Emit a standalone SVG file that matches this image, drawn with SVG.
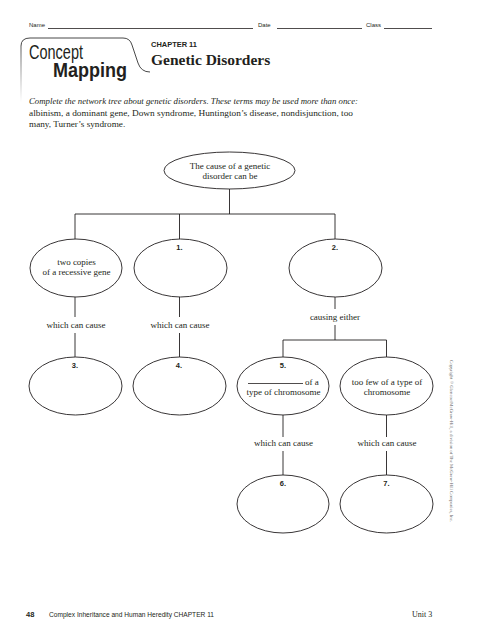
<svg xmlns="http://www.w3.org/2000/svg" width="500" height="640" viewBox="0 0 500 640">
<defs>
<style>
.sans{font-family:"Liberation Sans","Open Sans",sans-serif;fill:#231f20}
.serif{font-family:"Liberation Serif","DejaVu Serif",serif;fill:#231f20}
.node{fill:none;stroke:#231f20;stroke-width:0.9}
.conn line{stroke:#231f20;stroke-width:0.9}
.lbl{font-family:"Liberation Serif",serif;font-size:9px;fill:#231f20;text-anchor:middle}
.num{font-family:"Liberation Sans",sans-serif;font-size:7.5px;font-weight:bold;fill:#231f20;text-anchor:middle}
.ntxt{font-family:"Liberation Serif",serif;font-size:9px;fill:#231f20;text-anchor:middle}
.rule{stroke:#231f20;stroke-width:0.8}
</style>
<linearGradient id="gh" x1="0" y1="0" x2="1" y2="0">
<stop offset="0" stop-color="#333"/><stop offset="0.85" stop-color="#555"/><stop offset="1" stop-color="#fff"/>
</linearGradient>
<linearGradient id="gv" x1="0" y1="0" x2="0" y2="1">
<stop offset="0" stop-color="#555"/><stop offset="1" stop-color="#fff"/>
</linearGradient>
</defs>
<rect width="500" height="640" fill="#fff"/>

<!-- header -->
<g id="header">
<text class="sans" x="29" y="27" font-size="6">Name</text>
<line class="rule" x1="48" y1="28.5" x2="253" y2="28.5"/>
<text class="sans" x="258" y="27" font-size="6">Date</text>
<line class="rule" x1="277" y1="28.5" x2="362" y2="28.5"/>
<text class="sans" x="366" y="27" font-size="6">Class</text>
<line class="rule" x1="384" y1="28.5" x2="432" y2="28.5"/>
<path d="M21,46 Q21,38 30,38 L123,38 Q130,38 132,45 L138,63 Q141,72 150,72" fill="none" stroke="#333" stroke-width="0.9"/>
<line x1="150" y1="72" x2="434" y2="72" stroke="url(#gh)" stroke-width="0.9"/>
<rect x="20.5" y="46" width="1" height="56" fill="url(#gv)"/>
<text class="sans" x="29" y="59" font-size="20" textLength="54" lengthAdjust="spacingAndGlyphs">Concept</text>
<text class="sans" x="53" y="77" font-size="21" font-weight="bold" textLength="74" lengthAdjust="spacingAndGlyphs">Mapping</text>
<text class="sans" x="151" y="46.5" font-size="8" font-weight="bold" textLength="46" lengthAdjust="spacingAndGlyphs">CHAPTER 11</text>
<text class="serif" x="151" y="64.5" font-size="15.5" font-weight="bold">Genetic Disorders</text>
</g>

<g id="instructions">
<text class="serif" x="29" y="104" font-size="9.2" font-style="italic" textLength="329" lengthAdjust="spacingAndGlyphs">Complete the network tree about genetic disorders. These terms may be used more than once:</text>
<text class="serif" x="29" y="115.5" font-size="9.2" textLength="324" lengthAdjust="spacingAndGlyphs">albinism, a dominant gene, Down syndrome, Huntington’s disease, nondisjunction, too</text>
<text class="serif" x="29" y="127" font-size="9.2">many, Turner’s syndrome.</text>
</g>

<!-- connectors -->
<g id="connectors" class="conn">
<line x1="229.5" y1="189" x2="229.5" y2="214"/>
<line x1="75" y1="214" x2="335" y2="214"/>
<line x1="75" y1="214" x2="75" y2="239"/>
<line x1="179.5" y1="214" x2="179.5" y2="239"/>
<line x1="335" y1="214" x2="335" y2="239"/>
<line x1="75" y1="297" x2="75" y2="317"/>
<line x1="75" y1="333" x2="75" y2="357"/>
<line x1="179.5" y1="297" x2="179.5" y2="317"/>
<line x1="179.5" y1="333" x2="179.5" y2="357"/>
<line x1="335" y1="297" x2="335" y2="309"/>
<line x1="335" y1="325" x2="335" y2="340"/>
<line x1="283" y1="340" x2="386.5" y2="340"/>
<line x1="283" y1="340" x2="283" y2="357"/>
<line x1="386.5" y1="340" x2="386.5" y2="357"/>
<line x1="283" y1="415" x2="283" y2="437"/>
<line x1="283" y1="451" x2="283" y2="475"/>
<line x1="386.5" y1="415" x2="386.5" y2="437"/>
<line x1="386.5" y1="451" x2="386.5" y2="475"/>
</g>

<g id="connector-labels">
<text class="lbl" x="76" y="328">which can cause</text>
<text class="lbl" x="180" y="328">which can cause</text>
<text class="lbl" x="335" y="320">causing either</text>
<text class="lbl" x="283.5" y="446">which can cause</text>
<text class="lbl" x="387" y="446">which can cause</text>
</g>

<g id="root">
<ellipse class="node" cx="229.5" cy="170.5" rx="65.5" ry="18.5"/>
<text class="ntxt" x="230" y="168.5">The cause of a genetic</text>
<text class="ntxt" x="230" y="179">disorder can be</text>
</g>

<g id="recessive">
<ellipse class="node" cx="76" cy="268" rx="46" ry="29"/>
<text class="ntxt" x="76.5" y="264.5">two copies</text>
<text class="ntxt" x="76.5" y="275">of a recessive gene</text>
</g>

<g id="n1">
<ellipse class="node" cx="180.5" cy="268" rx="46.5" ry="29"/>
<text class="num" x="179.5" y="249.5">1.</text>
</g>

<g id="n2">
<ellipse class="node" cx="335.5" cy="268" rx="46.5" ry="29"/>
<text class="num" x="335" y="249.5">2.</text>
</g>

<g id="n3">
<ellipse class="node" cx="75.5" cy="386" rx="46.5" ry="29"/>
<text class="num" x="75" y="367.5">3.</text>
</g>

<g id="n4">
<ellipse class="node" cx="179.5" cy="386" rx="46.5" ry="29"/>
<text class="num" x="179" y="367.5">4.</text>
</g>

<g id="n5">
<ellipse class="node" cx="283" cy="386" rx="46" ry="29"/>
<text class="num" x="283" y="367.5">5.</text>
<line x1="248" y1="383.5" x2="303" y2="383.5" stroke="#231f20" stroke-width="0.8"/>
<text class="serif" x="305" y="384.5" font-size="9">of a</text>
<text class="ntxt" x="283.5" y="394.5">type of chromosome</text>
</g>

<g id="toofew">
<ellipse class="node" cx="386.5" cy="386" rx="46.5" ry="29"/>
<text class="ntxt" x="387" y="384.5">too few of a type of</text>
<text class="ntxt" x="387" y="395">chromosome</text>
</g>

<g id="n6">
<ellipse class="node" cx="283" cy="504" rx="46" ry="29"/>
<text class="num" x="283" y="485.5">6.</text>
</g>

<g id="n7">
<ellipse class="node" cx="386.5" cy="504" rx="46.5" ry="29"/>
<text class="num" x="386.5" y="485.5">7.</text>
</g>

<text x="450" y="360" transform="rotate(90 450 360)" font-family="Liberation Serif, serif" font-size="5" fill="#666" textLength="162" lengthAdjust="spacingAndGlyphs">Copyright © Glencoe/McGraw-Hill, a division of The McGraw-Hill Companies, Inc.</text>

<g id="footer">
<text class="sans" x="26" y="617" font-size="7.5" font-weight="bold">48</text>
<text class="sans" x="49" y="617" font-size="7" textLength="165" lengthAdjust="spacingAndGlyphs">Complex Inheritance and Human Heredity  CHAPTER 11</text>
<text class="serif" x="412" y="617" font-size="8">Unit 3</text>
</g>
</svg>
